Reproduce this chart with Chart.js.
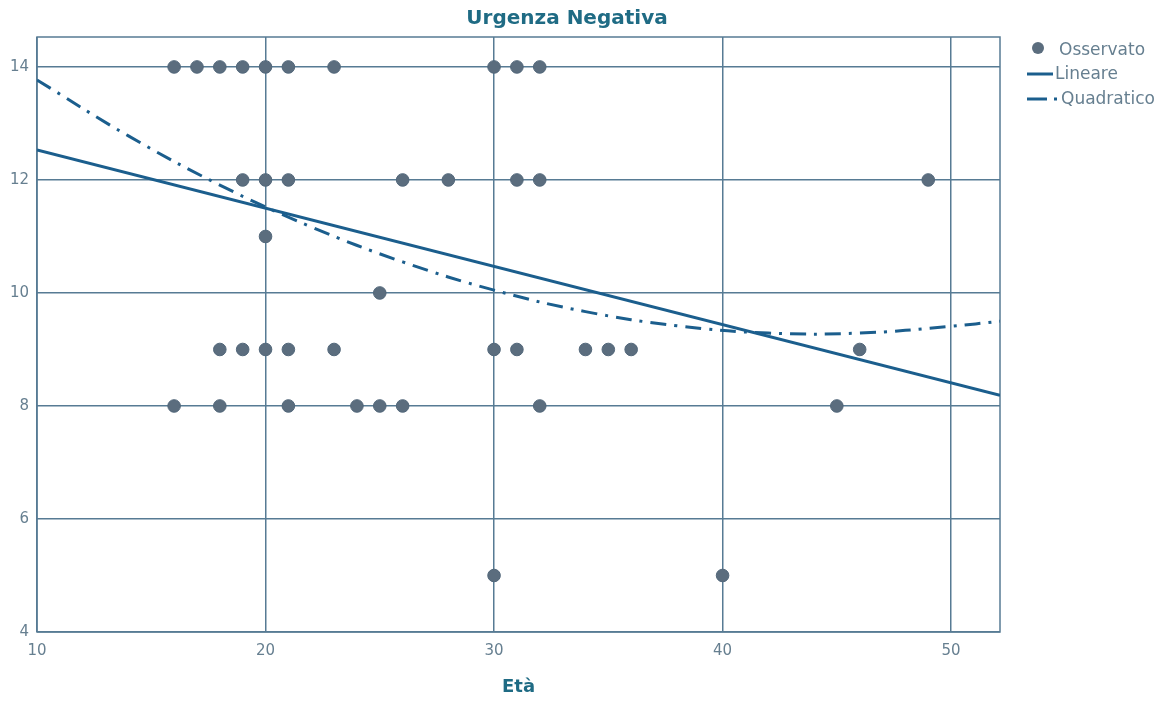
<!DOCTYPE html>
<html lang="it">
  <head>
    <meta charset="UTF-8" />
    <title>Urgenza Negativa</title>
    <script src="https://cdn.jsdelivr.net/npm/chart.js"></script>
    <style>
      body {
        margin: 0;
        background: #ffffff;
      }
      #wrap {
        width: 1165px;
        height: 702px;
      }
    </style>
  </head>
  <body>
    <div id="wrap">
      <canvas id="myChart"></canvas>
    </div>
    <script>
      // valori
      const obsX = [16, 17, 18, 19, 20, 21, 23, 30, 31, 32,
                    19, 20, 21, 26, 28, 31, 32, 49,
                    20,
                    25,
                    18, 19, 20, 21, 23, 30, 31, 34, 35, 36, 46,
                    16, 18, 21, 24, 25, 26, 32, 45,
                    30, 40];
      const obsY = [14, 14, 14, 14, 14, 14, 14, 14, 14, 14,
                    12, 12, 12, 12, 12, 12, 12, 12,
                    11,
                    10,
                    9, 9, 9, 9, 9, 9, 9, 9, 9, 9, 9,
                    8, 8, 8, 8, 8, 8, 8, 8,
                    5, 5];

      const linX = [10, 52.14];
      const linY = [12.53, 8.19];

      const quadX = [10, 14, 18, 22, 26, 30, 34, 38, 42, 46, 50, 52.14];
      const quadY = [13.77, 12.78, 11.91, 11.17, 10.55, 10.05, 9.67, 9.42, 9.29, 9.29, 9.41, 9.5];

      const xTicks = [10, 20, 30, 40, 50];
      const yTicks = [4, 6, 8, 10, 12, 14];

      const titolo = "Urgenza Negativa";

      const gridColor = "#577b94";
      const dotColor = "#5b6d7e";
      const lineColor = "#1b5e8d";
      const textColor = "#667f90";
      const titleColor = "#1f6b84";

      const toPts = (xs, ys) => xs.map((x, i) => ({ x: x, y: ys[i] }));

      // cornice + titolo
      const frame = {
        id: "frame",
        beforeDatasetsDraw(chart) {
          const { ctx, chartArea: a } = chart;
          ctx.save();
          ctx.strokeStyle = gridColor;
          ctx.lineWidth = 1.5;
          ctx.strokeRect(a.left, a.top, a.right - a.left, a.bottom - a.top);
          ctx.restore();
        },
        afterDraw(chart) {
          const ctx = chart.ctx;
          ctx.save();
          ctx.font = "bold 20px 'DejaVu Sans'";
          ctx.fillStyle = titleColor;
          ctx.textAlign = "center";
          ctx.textBaseline = "middle";
          ctx.fillText(titolo, 567, 19);
          ctx.restore();
        },
      };

      const legenda = {
        id: "legenda",
        afterDraw(chart) {
          const ctx = chart.ctx;
          ctx.save();
          ctx.font = "17px 'DejaVu Sans'";
          ctx.fillStyle = textColor;
          ctx.textBaseline = "middle";
          ctx.textAlign = "left";

          ctx.beginPath();
          ctx.arc(1038, 48, 6, 0, Math.PI * 2);
          ctx.fillStyle = dotColor;
          ctx.fill();
          ctx.fillStyle = textColor;
          ctx.fillText(chart.data.datasets[0].label, 1059, 51);

          ctx.strokeStyle = lineColor;
          ctx.lineWidth = 3;
          ctx.beginPath();
          ctx.moveTo(1027, 74);
          ctx.lineTo(1053, 74);
          ctx.stroke();
          ctx.fillText(chart.data.datasets[1].label, 1055, 75);

          ctx.beginPath();
          ctx.moveTo(1027, 99);
          ctx.lineTo(1047, 99);
          ctx.stroke();
          ctx.fillStyle = lineColor;
          ctx.fillRect(1054, 97.5, 3, 3);
          ctx.fillStyle = textColor;
          ctx.fillText(chart.data.datasets[2].label, 1061, 100);
          ctx.restore();
        },
      };

      const config = {
        type: "scatter",
        data: {
          datasets: [
            {
              label: "Osservato",
              data: toPts(obsX, obsY),
              pointRadius: 6.3,
              pointHoverRadius: 6.3,
              backgroundColor: dotColor,
              borderColor: "#52677a",
              borderWidth: 1,
            },
            {
              label: "Lineare",
              data: toPts(linX, linY),
              showLine: true,
              pointRadius: 0,
              borderColor: lineColor,
              borderWidth: 3,
            },
            {
              label: "Quadratico",
              data: toPts(quadX, quadY),
              showLine: true,
              pointRadius: 0,
              tension: 0.4,
              borderColor: lineColor,
              borderWidth: 3,
              borderDash: [16, 8, 3, 8],
            },
          ],
        },
        options: {
          responsive: true,
          maintainAspectRatio: false,
          animation: false,
          events: [],
          layout: {
            padding: { left: 0, right: 165, top: 37, bottom: 0 },
          },
          plugins: {
            legend: { display: false },
            tooltip: { enabled: false },
            title: { display: false },
          },
          scales: {
            x: {
              type: "linear",
              min: 10,
              max: 52.14,
              afterBuildTicks: (scale) => {
                scale.ticks = xTicks.map((v) => ({ value: v }));
              },
              afterFit: (scale) => {
                scale.height = 70;
              },
              border: { display: false },
              grid: { color: gridColor, lineWidth: 1.5, drawTicks: false },
              ticks: {
                color: textColor,
                padding: 10,
                font: { family: "'DejaVu Sans'", size: 15 },
                maxRotation: 0,
              },
              title: {
                display: true,
                text: "Età",
                color: titleColor,
                font: { family: "'DejaVu Sans'", size: 18, weight: "bold", lineHeight: 1.2 },
                padding: { top: 0, bottom: 4 },
              },
            },
            y: {
              min: 4,
              max: 14.53,
              afterBuildTicks: (scale) => {
                scale.ticks = yTicks.map((v) => ({ value: v }));
              },
              afterFit: (scale) => {
                scale.width = 37;
              },
              border: { display: false },
              grid: { color: gridColor, lineWidth: 1.5, drawTicks: false },
              ticks: {
                color: textColor,
                padding: 8,
                font: { family: "'DejaVu Sans'", size: 15 },
              },
            },
          },
        },
        plugins: [frame, legenda],
      };

      const myChart = new Chart(document.getElementById("myChart"), config);
    </script>
  </body>
</html>
